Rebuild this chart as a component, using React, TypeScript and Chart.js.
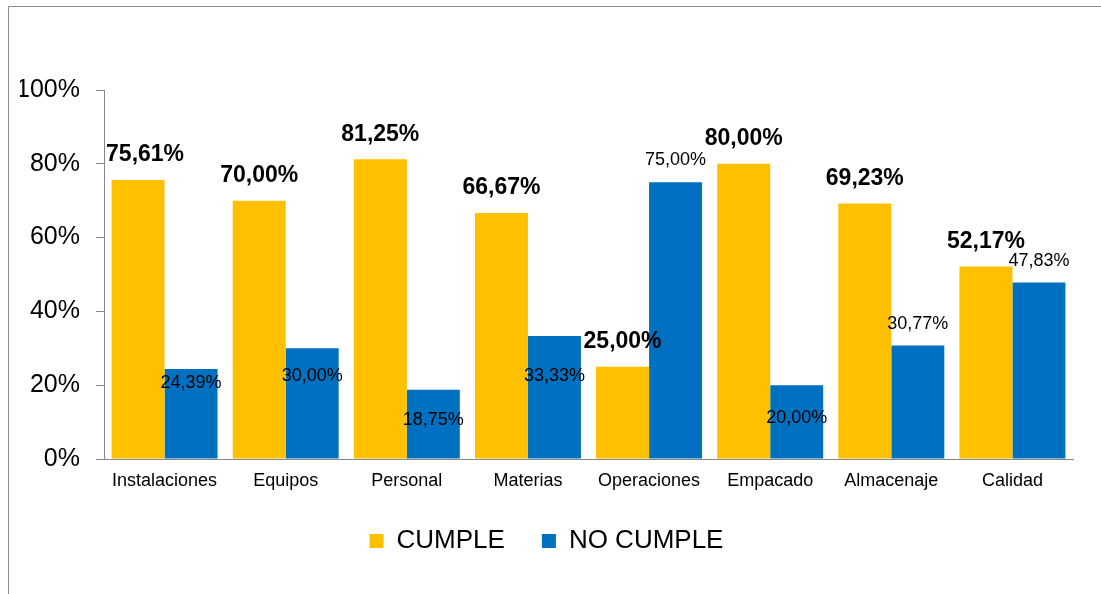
import React, { useEffect, useRef } from "react";
import { Chart, registerables } from "chart.js";

Chart.register(...registerables);

const categories = ["Instalaciones", "Equipos", "Personal", "Materias", "Operaciones", "Empacado", "Almacenaje", "Calidad"];
const cumple = [75.61, 70.0, 81.25, 66.67, 25.0, 80.0, 69.23, 52.17];
const noCumple = [24.39, 30.0, 18.75, 33.33, 75.0, 20.0, 30.77, 47.83];
const seriesNames = ["CUMPLE", "NO CUMPLE"];
const seriesColors = ["#FFC000", "#0070C0"];

// label placement tweaks (pixels), as in the reference
const cumpleLabelDx = [7, 0, 0, 0, 0, 0, 0, 0];
const noCumpleLabelDy = [14, 28, 30, 40, -22, 33, -21, -21];

const FONT = '"Liberation Sans", Arial, sans-serif';
const AXIS_GRAY = "#868686";

const fmt = (v: number) => v.toFixed(2).replace(".", ",") + "%";

const framePlugin = {
  id: "frame",
  beforeDraw(chart: any) {
    const ctx = chart.ctx;
    ctx.save();
    ctx.fillStyle = "#ffffff";
    ctx.fillRect(0, 0, chart.width, chart.height);
    ctx.strokeStyle = "#8c8c8c";
    ctx.lineWidth = 1;
    ctx.beginPath();
    ctx.moveTo(8.5, chart.height);
    ctx.lineTo(8.5, 6.5);
    ctx.lineTo(chart.width, 6.5);
    ctx.stroke();
    ctx.restore();
  },
};

const labelPlugin = {
  id: "valueLabels",
  afterDatasetsDraw(chart: any) {
    const ctx = chart.ctx;
    chart.data.datasets.forEach((ds: any, di: number) => {
      const meta = chart.getDatasetMeta(di);
      meta.data.forEach((el: any, i: number) => {
        const v = ds.data[i] as number;
        const { x, y } = el.getProps(["x", "y"], true);
        ctx.save();
        ctx.textAlign = "center";
        ctx.textBaseline = "middle";
        ctx.fillStyle = "#000000";
        if (di === 0) {
          ctx.font = `bold 23px ${FONT}`;
          ctx.fillText(fmt(v), x + cumpleLabelDx[i], y - 25);
        } else {
          ctx.font = `18px ${FONT}`;
          ctx.fillText(fmt(v), x, y + noCumpleLabelDy[i]);
        }
        ctx.restore();
      });
    });
  },
};

export default function App() {
  const canvasRef = useRef<HTMLCanvasElement | null>(null);

  useEffect(() => {
    if (!canvasRef.current) return;
    const chart = new Chart(canvasRef.current, {
      type: "bar",
      data: {
        labels: categories,
        datasets: [
          {
            label: seriesNames[0],
            data: cumple,
            backgroundColor: seriesColors[0],
            borderWidth: 0,
            categoryPercentage: 0.875,
            barPercentage: 1,
          },
          {
            label: seriesNames[1],
            data: noCumple,
            backgroundColor: seriesColors[1],
            borderWidth: 0,
            categoryPercentage: 0.875,
            barPercentage: 1,
          },
        ],
      },
      options: {
        responsive: false,
        animation: false,
        layout: { padding: { left: 20, right: 28, top: 90, bottom: 30 } },
        plugins: {
          tooltip: { enabled: false },
          legend: {
            position: "bottom",
            labels: {
              boxWidth: 14,
              boxHeight: 14,
              padding: 37,
              color: "#000000",
              font: { family: FONT, size: 26 },
            },
          },
        },
        scales: {
          x: {
            grid: { display: true, drawOnChartArea: false, drawTicks: false, color: AXIS_GRAY },
            border: { display: true, color: AXIS_GRAY },
            ticks: { color: "#000000", font: { family: FONT, size: 18 }, padding: 11 },
            afterFit: (s: any) => {
              s.height = 32;
            },
          },
          y: {
            min: 0,
            max: 100,
            ticks: {
              stepSize: 20,
              color: "#000000",
              font: { family: FONT, size: 25 },
              padding: 16,
              callback: (v: any) => v + "%",
            },
            grid: { drawOnChartArea: false, tickLength: 8, color: AXIS_GRAY },
            border: { display: true, color: AXIS_GRAY },
            afterFit: (s: any) => {
              s.width = 84;
            },
          },
        },
      },
      plugins: [framePlugin, labelPlugin],
    } as any);
    return () => chart.destroy();
  }, []);

  return (
    <div style={{ position: "absolute", left: 0, top: 0, width: 1101, height: 594 }}>
      <canvas ref={canvasRef} width={1101} height={594} style={{ display: "block" }} />
    </div>
  );
}
